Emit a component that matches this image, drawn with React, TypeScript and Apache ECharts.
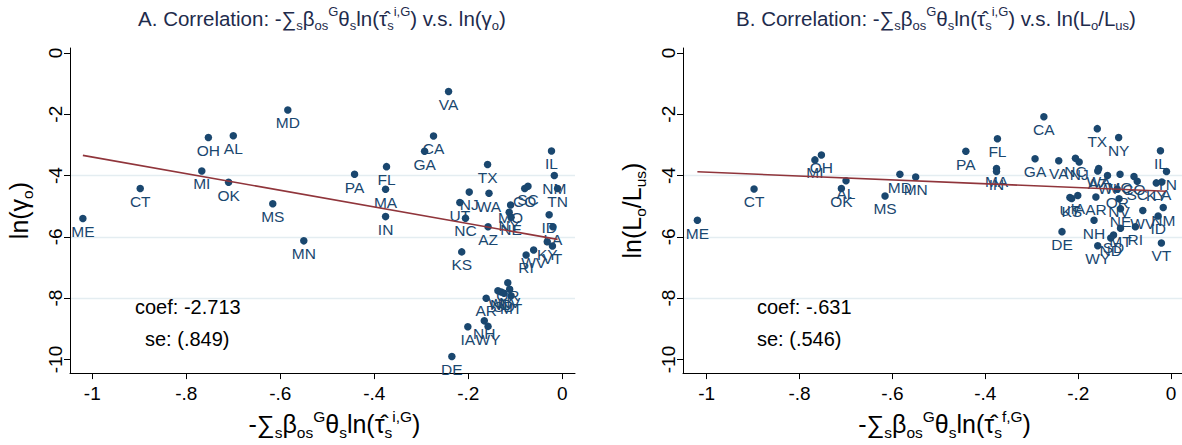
import React, { useEffect, useRef } from "react";
import * as echarts from "echarts";

// ---- data ----
const states = [
  "ME", "CT", "OH", "MI", "AL", "OK", "MD", "MS", "MN", "PA", "FL", "MA", "IN",
  "CA", "GA", "VA", "NC", "NJ", "TX", "NY", "IL", "TN", "NM", "ID", "LA", "KY",
  "VT", "WV", "RI", "CO", "SC", "WA", "AZ", "UT", "KS", "IA", "AR", "NH", "WY",
  "DE", "MO", "NE", "WI", "ND", "SD", "OR", "NV", "MT",
];
// -sum_s beta_os^G theta_s ln(tau_s^{i,G}) (shared x of both panels)
const xShare = [
  -1.02, -0.898, -0.753, -0.767, -0.7, -0.71, -0.584, -0.616, -0.55, -0.442, -0.374, -0.376, -0.376,
  -0.274, -0.293, -0.242, -0.206, -0.198, -0.159, -0.113, -0.023, -0.01, -0.017, -0.028, -0.02, -0.032,
  -0.021, -0.061, -0.077, -0.08, -0.073, -0.156, -0.158, -0.218, -0.214, -0.201, -0.162, -0.166, -0.158,
  -0.235, -0.11, -0.109, -0.137, -0.13, -0.124, -0.116, -0.112, -0.109,
];
// panel A: ln(gamma_o)
const lnGamma = [
  -5.4, -4.42, -2.76, -3.85, -2.7, -4.22, -1.86, -4.92, -6.13, -3.96, -3.71, -4.45, -5.34,
  -2.71, -3.21, -1.26, -5.39, -4.54, -3.64, -5.2, -3.2, -4.42, -4.0, -5.28, -5.67, -6.16,
  -6.3, -6.43, -6.59, -4.42, -4.35, -4.58, -5.67, -4.88, -6.49, -8.93, -8.0, -8.74, -8.92,
  -9.9, -4.96, -5.36, -7.76, -7.8, -7.84, -7.5, -7.71, -7.92,
];
// panel B: ln(L_o / L_us)
const lnLratio = [
  -5.46, -4.44, -3.33, -3.49, -4.17, -4.42, -3.96, -4.67, -4.05, -3.21, -2.8, -3.77, -3.87,
  -2.08, -3.45, -3.52, -3.44, -3.56, -2.47, -2.76, -3.19, -3.87, -5.04, -5.32, -4.21, -4.24,
  -6.2, -5.14, -5.67, -4.03, -4.19, -3.77, -3.85, -4.72, -4.75, -4.65, -4.7, -5.46, -6.29,
  -5.83, -3.96, -5.08, -4.0, -6.04, -5.94, -4.45, -4.76, -5.72,
];
const xTicks = [-1, -0.8, -0.6, -0.4, -0.2, 0];
const yTicks = [0, -2, -4, -6, -8, -10];
const yGridLines = [-2, -4, -6, -8, -10];
const fitA = { coef: -2.713, se: ".849", intercept: -6.11, coefText: "-2.713" };
const fitB = { coef: -0.631, se: ".546", intercept: -4.52, coefText: "-.631" };

const NAVY = "#1a476f";
const MAROON = "#90353b";
const GRID = "#e4edf1";
const TITLE = "#1e2b4c";
const FONT = "Liberation Sans, Arial, Helvetica, sans-serif";
const Y_MIN = -10.444;
const Y_MAX = 0.16;

const fmt = (v: number) => {
  if (v === 0) return "0";
  const s = String(Math.round(v * 10) / 10);
  return s.replace(/^(-?)0\./, "$1.");
};

const richAxis = {
  n: { fontSize: 25, lineHeight: 32, color: "#000", fontFamily: FONT },
  sub: { fontSize: 15.5, lineHeight: 17, verticalAlign: "bottom", color: "#000", fontFamily: FONT },
  sup: { fontSize: 15.5, lineHeight: 23, verticalAlign: "top", color: "#000", fontFamily: FONT },
};
const richTitle = {
  n: { fontSize: 20.5, lineHeight: 27, fill: TITLE, fontFamily: FONT },
  sub: { fontSize: 13, lineHeight: 15, verticalAlign: "bottom", fill: TITLE, fontFamily: FONT },
  sup: { fontSize: 13, lineHeight: 19, verticalAlign: "top", fill: TITLE, fontFamily: FONT },
};

const xNameA = "{n|-∑}{sub|s}{n|β}{sub|os}{sup|G}{n|θ}{sub|s}{n|ln(τ̂}{sub|s}{sup|i,G}{n|)}";
const xNameB = "{n|-∑}{sub|s}{n|β}{sub|os}{sup|G}{n|θ}{sub|s}{n|ln(τ̂}{sub|s}{sup|f,G}{n|)}";
const yNameA = "{n|ln(γ}{sub|o}{n|)}";
const yNameB = "{n|ln(L}{sub|o}{n|/L}{sub|us}{n|)}";
const titleA =
  "{n|A. Correlation: -∑}{sub|s}{n|β}{sub|os}{sup|G}{n|θ}{sub|s}{n|ln(τ̂}{sub|s}{sup|i,G}{n|) v.s. ln(γ}{sub|o}{n|)}";
const titleB =
  "{n|B. Correlation: -∑}{sub|s}{n|β}{sub|os}{sup|G}{n|θ}{sub|s}{n|ln(τ̂}{sub|s}{sup|i,G}{n|) v.s. ln(L}{sub|o}{n|/L}{sub|us}{n|)}";

function xAxisCfg(idx: number, min: number, max: number, name: string) {
  return {
    type: "value",
    gridIndex: idx,
    min,
    max,
    splitLine: { show: false },
    axisLine: { show: true, onZero: false, lineStyle: { color: "#000", width: 1 } },
    axisTick: { show: true, length: 6, customValues: xTicks, lineStyle: { color: "#000" } },
    axisLabel: { customValues: xTicks, formatter: fmt, fontSize: 19, color: "#000", margin: 11, fontFamily: FONT },
    name,
    nameLocation: "middle",
    nameGap: 29,
    nameTextStyle: { rich: richAxis, padding: [0, 0, 0, 24] },
  };
}
function yAxisCfg(idx: number, name: string) {
  return {
    type: "value",
    gridIndex: idx,
    min: Y_MIN,
    max: Y_MAX,
    splitLine: { show: false },
    axisLine: { show: true, onZero: false, lineStyle: { color: "#000", width: 1 } },
    axisTick: { show: true, length: 6, customValues: yTicks, lineStyle: { color: "#000" } },
    axisLabel: { customValues: yTicks, formatter: fmt, fontSize: 19, color: "#000", margin: 5, rotate: 90, fontFamily: FONT },
    name,
    nameLocation: "middle",
    nameGap: 35,
    nameRotate: 90,
    nameTextStyle: { rich: richAxis },
  };
}
// hidden axis used only to draw the light horizontal gridlines
function yGridAxisCfg(idx: number) {
  return {
    type: "value",
    gridIndex: idx,
    min: Y_MIN,
    max: Y_MAX,
    axisLine: { show: false },
    axisLabel: { show: false, customValues: yGridLines },
    axisTick: { show: false, customValues: yGridLines },
    splitLine: { show: true, showMinLine: false, showMaxLine: false, lineStyle: { color: GRID, width: 1.3 } },
  };
}

function panelSeries(idx: number, ys: number[], fit: { coef: number; intercept: number }) {
  const pts = states.map((s, i) => ({ name: s, value: [xShare[i], ys[i]] }));
  const xMin = Math.min(...xShare);
  const xMax = Math.max(...xShare);
  return [
    {
      type: "scatter",
      xAxisIndex: idx,
      yAxisIndex: idx,
      data: pts,
      symbolSize: 7.5,
      z: 10,
      clip: false,
      itemStyle: { color: NAVY, opacity: 1 },
      label: {
        show: true,
        position: "bottom",
        distance: 1,
        formatter: "{b}",
        color: NAVY,
        fontSize: 15.5,
        fontFamily: FONT,
      },
    },
    {
      type: "line",
      xAxisIndex: idx,
      yAxisIndex: idx,
      z: 11,
      symbol: "none",
      lineStyle: { color: MAROON, width: 1.6 },
      data: [
        [xMin, fit.intercept + fit.coef * xMin],
        [xMax, fit.intercept + fit.coef * xMax],
      ],
    },
  ];
}

export default function App() {
  const ref = useRef<HTMLDivElement>(null);
  useEffect(() => {
    document.body.style.margin = "0";
    const chart = echarts.init(ref.current!, null, { renderer: "svg" });
    const txt = (x: number, y: number, text: string) => ({
      type: "text",
      x,
      y,
      z: 20,
      style: { text, fontSize: 20, fontFamily: FONT, fill: "#000", align: "left", verticalAlign: "middle" },
    });
    const option: any = {
      animation: false,
      backgroundColor: "#fff",
      grid: [
        { left: 70, top: 48, width: 505, height: 334 },
        { left: 683, top: 48, width: 505, height: 334 },
      ],
      xAxis: [xAxisCfg(0, -1.0474, 0.027, xNameA), xAxisCfg(1, -1.051, 0.0234, xNameB)],
      yAxis: [yAxisCfg(0, yNameA), yAxisCfg(1, yNameB), yGridAxisCfg(0), yGridAxisCfg(1)],
      series: [...panelSeries(0, lnGamma, fitA), ...panelSeries(1, lnLratio, fitB)],
      graphic: [
        { type: "text", x: 322, y: 18, z: 20, style: { text: titleA, rich: richTitle, align: "center", verticalAlign: "middle" } },
        { type: "text", x: 936, y: 18, z: 20, style: { text: titleB, rich: richTitle, align: "center", verticalAlign: "middle" } },
        txt(135, 307, "coef: " + fitA.coefText),
        txt(145, 339, "se: (" + fitA.se + ")"),
        txt(757, 307, "coef: " + fitB.coefText),
        txt(757, 339, "se: (" + fitB.se + ")"),
      ],
    };
    chart.setOption(option);
    return () => chart.dispose();
  }, []);
  return <div ref={ref} style={{ width: 1182, height: 445 }} />;
}
